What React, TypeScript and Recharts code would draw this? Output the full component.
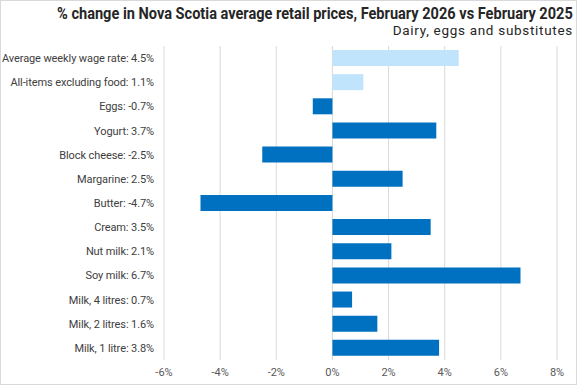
import { BarChart, Bar, XAxis, YAxis, CartesianGrid, Cell } from "recharts"

const categories = [
  "Average weekly wage rate",
  "All-items excluding food",
  "Eggs",
  "Yogurt",
  "Block cheese",
  "Margarine",
  "Butter",
  "Cream",
  "Nut milk",
  "Soy milk",
  "Milk, 4 litres",
  "Milk, 2 litres",
  "Milk, 1 litre",
]
const changes = [4.5, 1.1, -0.7, 3.7, -2.5, 2.5, -4.7, 3.5, 2.1, 6.7, 0.7, 1.6, 3.8]
const referenceRows = ["Average weekly wage rate", "All-items excluding food"]
const xTicks = [-6, -4, -2, 0, 2, 4, 6, 8]

const data = categories.map((name, i) => ({
  label: `${name}: ${changes[i]}%`,
  value: changes[i],
  isReference: referenceRows.includes(name),
}))

const font = "Roboto, 'Noto Sans', sans-serif"

function CategoryTick({ x, y, payload }: any) {
  return (
    <text
      x={x}
      y={y}
      dx={0}
      dy={4}
      textAnchor="end"
      fill="#404040"
      fontSize={11}
      letterSpacing={-0.1}
      fontFamily={font}
    >
      {payload.value}
    </text>
  )
}

export default function App() {
  return (
    <div
      style={{
        position: "absolute",
        left: 0,
        top: 0,
        width: 577,
        height: 385,
        boxSizing: "border-box",
        border: "1px solid #d9d9d9",
        background: "#fff",
        fontFamily: font,
      }}
    >
      <div
        style={{
          position: "absolute",
          right: 3,
          top: 3,
          fontSize: 16,
          fontWeight: 700,
          color: "#262626",
          whiteSpace: "nowrap",
          transform: "scaleX(0.91)",
          transformOrigin: "right center",
        }}
      >
        % change in Nova Scotia average retail prices, February 2026 vs February 2025
      </div>
      <div
        style={{
          position: "absolute",
          right: 3,
          top: 21,
          fontSize: 13.5,
          letterSpacing: 0.7,
          color: "#262626",
          whiteSpace: "nowrap",
        }}
      >
        Dairy, eggs and substitutes
      </div>
      <BarChart
        width={575}
        height={383}
        data={data}
        layout="vertical"
        margin={{ top: 45, right: 19, bottom: 0, left: 0 }}
        barSize={16}
      >
        <CartesianGrid stroke="#d9d9d9" horizontal={false} />
        <XAxis
          type="number"
          domain={[-6, 8]}
          ticks={xTicks}
          tickFormatter={(v) => `${v}%`}
          axisLine={false}
          tickLine={false}
          height={24}
          tick={{ fill: "#595959", fontSize: 11 }}
        />
        <YAxis
          type="category"
          dataKey="label"
          width={163}
          axisLine={false}
          tickLine={false}
          tickSize={0}
          tickMargin={10}
          interval={0}
          tick={<CategoryTick />}
        />
        <Bar dataKey="value" isAnimationActive={false}>
          {data.map((d, i) => (
            <Cell key={i} fill={d.isReference ? "#c0e4fc" : "#0070c0"} />
          ))}
        </Bar>
      </BarChart>
    </div>
  )
}
